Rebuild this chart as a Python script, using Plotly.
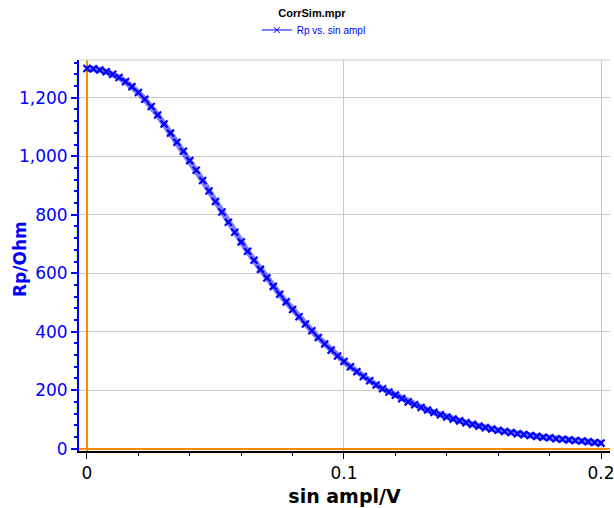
import plotly.graph_objects as go

sin_ampl = [0.0000, 0.0025, 0.0050, 0.0075, 0.0100, 0.0125, 0.0150, 0.0175, 0.0200, 0.0225,
            0.0250, 0.0275, 0.0300, 0.0325, 0.0350, 0.0375, 0.0400, 0.0425, 0.0450, 0.0475,
            0.0500, 0.0525, 0.0550, 0.0575, 0.0600, 0.0625, 0.0650, 0.0675, 0.0700, 0.0725,
            0.0750, 0.0775, 0.0800, 0.0825, 0.0850, 0.0875, 0.0900, 0.0925, 0.0950, 0.0975,
            0.1000, 0.1025, 0.1050, 0.1075, 0.1100, 0.1125, 0.1150, 0.1175, 0.1200, 0.1225,
            0.1250, 0.1275, 0.1300, 0.1325, 0.1350, 0.1375, 0.1400, 0.1425, 0.1450, 0.1475,
            0.1500, 0.1525, 0.1550, 0.1575, 0.1600, 0.1625, 0.1650, 0.1675, 0.1700, 0.1725,
            0.1750, 0.1775, 0.1800, 0.1825, 0.1850, 0.1875, 0.1900, 0.1925, 0.1950, 0.1975,
            0.2000]
rp_ohm = [1300, 1299, 1295, 1289, 1280, 1269, 1255, 1238, 1218, 1195,
          1170, 1141, 1110, 1079, 1048, 1017, 985, 952, 917, 881,
          845, 809, 774, 740, 707, 675, 644, 613, 584, 555,
          528, 502, 476, 451, 426, 403, 380, 358, 337, 317,
          298, 280, 263, 247, 232, 218, 205, 194, 183, 171,
          160, 150, 141, 132, 124, 116, 108, 101, 95, 89,
          83, 77, 72, 67, 63, 59, 55, 51, 48, 45,
          42, 39, 37, 34, 32, 30, 28, 26, 24, 21,
          19]

series_name = "Rp vs. sin ampl"
chart_title = "CorrSim.mpr"
x_title = "sin ampl/V"
y_title = "Rp/Ohm"

font = "Liberation Sans, Arial, sans-serif"
tick_font = "DejaVu Sans, Verdana, sans-serif"
blue = "#0000ff"

fig = go.Figure()
# light band (the connecting line)
fig.add_trace(go.Scatter(
    x=sin_ampl, y=rp_ohm, mode="lines", showlegend=False, hoverinfo="skip",
    line=dict(color="rgba(0,0,255,0.5)", width=6),
))
# data markers
fig.add_trace(go.Scatter(
    x=sin_ampl, y=rp_ohm, mode="markers", showlegend=False,
    marker=dict(symbol="x-thin", size=7, color=blue, line=dict(color=blue, width=2.2)),
))
# legend entry
fig.add_trace(go.Scatter(
    x=[None], y=[None], mode="lines+markers", name=series_name,
    line=dict(color=blue, width=1),
    marker=dict(symbol="x-thin", size=6, color=blue, line=dict(color=blue, width=1)),
))

fig.update_layout(
    width=614, height=508,
    margin=dict(l=79, r=0, t=60, b=57),
    paper_bgcolor="white", plot_bgcolor="white",
    font=dict(family=font),
    title=dict(text="<b>" + chart_title + "</b>", x=0.508, xanchor="center", y=0.974, yanchor="middle",
               font=dict(size=11, color="black", family=font)),
    showlegend=True,
    legend=dict(orientation="h", xref="container", x=0.511, xanchor="center", yref="container",
                y=0.941, yanchor="middle", font=dict(size=10, color=blue, family=font),
                bgcolor="rgba(0,0,0,0)", itemwidth=30),
    xaxis=dict(
        range=[-0.0031, 0.2035], dtick=0.1, tick0=0, ticklabeloverflow="allow",
        showgrid=True, gridcolor="#c8c8c8", gridwidth=1,
        zeroline=True, zerolinecolor="#ff8c00", zerolinewidth=1.5,
        showline=True, linecolor="black", linewidth=1.5,
        ticks="outside", ticklen=6, tickcolor="black", tickwidth=1,
        tickfont=dict(size=17, color="black", family=tick_font),
        minor=dict(dtick=0.02, ticks="outside", ticklen=3, tickcolor="black", showgrid=False),
        title=dict(text="<b>" + x_title + "</b>", font=dict(size=19, color="black", family=tick_font), standoff=8),
    ),
    yaxis=dict(
        range=[-8, 1329], dtick=200, tick0=0, tickformat=",d",
        showgrid=True, gridcolor="#c8c8c8", gridwidth=1,
        zeroline=True, zerolinecolor="#ff8c00", zerolinewidth=1.5,
        showline=True, linecolor=blue, linewidth=2,
        ticks="outside", ticklen=6, tickcolor=blue, tickwidth=1.5,
        tickfont=dict(size=17, color=blue, family=tick_font),
        minor=dict(dtick=40, ticks="outside", ticklen=3, tickcolor=blue, showgrid=False),
    ),
    annotations=[dict(text="<b>" + y_title + "</b>", xref="paper", yref="paper",
                      x=-0.110, y=0.49, xanchor="center", yanchor="middle", textangle=-90,
                      showarrow=False, font=dict(size=17, color=blue, family=tick_font))],
    shapes=[dict(type="line", xref="paper", yref="paper", x0=0, x1=1, y0=1, y1=1,
                 line=dict(color="#c8c8c8", width=1))],
)

fig.write_html("out.html", config={"displayModeBar": False},
               post_script="document.body.style.margin='0px';document.body.style.overflow='hidden';")
